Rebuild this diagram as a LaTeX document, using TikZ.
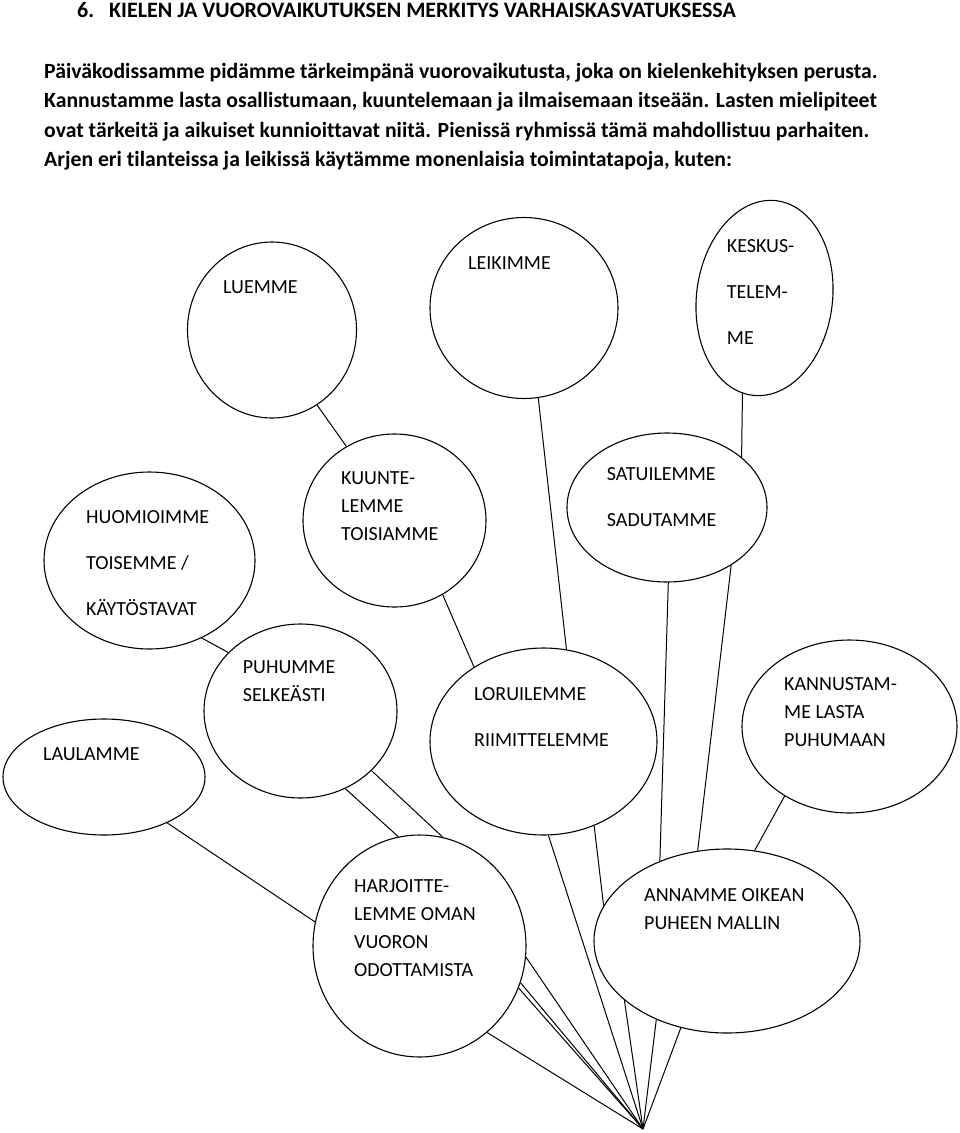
\documentclass[tikz,border=0pt]{standalone}
\usepackage{fontspec}
\setmainfont{Carlito}[Ligatures=NoCommon]
\usetikzlibrary{shapes.geometric}

\begin{document}
\begin{tikzpicture}[x=1pt,y=-1pt,
	bubble/.style={ellipse,draw,line width=1.1pt,inner sep=0pt},
	txt/.style={anchor=base west,inner sep=0pt,align=left,font=\fontsize{20}{28}\selectfont},
	wide/.style={anchor=base west,inner sep=0pt,align=left,font=\fontsize{20}{46}\selectfont},
	link/.style={line width=1pt}]
	\useasboundingbox (0,0) rectangle (960,1133);

	\node [anchor=base west,inner sep=0pt,font=\fontsize{22}{26}\selectfont\bfseries] (title) at (77,17.5)
	{\makebox[32pt][l]{6.}KIELEN JA VUOROVAIKUTUKSEN MERKITYS VARHAISKASVATUKSESSA};
	\node [anchor=base west,inner sep=0pt,align=left,font=\fontsize{21.7}{29.4}\selectfont\bfseries] (intro) at (44,166.7)
	{Päiväkodissamme pidämme tärkeimpänä vuorovaikutusta, joka on kielenkehityksen perusta.\\
	Kannustamme lasta osallistumaan, kuuntelemaan ja ilmaisemaan itseään. Lasten mielipiteet\\
	ovat tärkeitä ja aikuiset kunnioittavat niitä. Pienissä ryhmissä tämä mahdollistuu parhaiten.\\
	Arjen eri tilanteissa ja leikissä käytämme monenlaisia toimintatapoja, kuten:};

	% kuplat
	\node [bubble,minimum width=169pt,minimum height=176pt] (luemme) at (272,330) {};
	\node [bubble,minimum width=188pt,minimum height=181pt] (leik) at (524,308) {};
	\node [bubble,minimum width=136pt,minimum height=196pt,rotate=-7] (keskus) at (764.5,298) {};
	\node [bubble,minimum width=211pt,minimum height=177pt] (huom) at (149.5,560.5) {};
	\node [bubble,minimum width=183pt,minimum height=173pt] (kuunt) at (394.5,520.5) {};
	\node [bubble,minimum width=200pt,minimum height=149pt] (satu) at (667,507.5) {};
	\node [bubble,minimum width=193pt,minimum height=174pt] (puhu) at (300.5,711) {};
	\node [bubble,minimum width=202pt,minimum height=116pt] (laul) at (104,777) {};
	\node [bubble,minimum width=227pt,minimum height=187pt] (loru) at (543.5,741.5) {};
	\node [bubble,minimum width=215pt,minimum height=173pt] (kann) at (849.5,726.5) {};
	\node [bubble,minimum width=213pt,minimum height=222pt] (harj) at (419.5,946) {};
	\node [bubble,minimum width=266pt,minimum height=184pt] (anna) at (727,941) {};

	% tekstit (kohta = viimeisen rivin perusviiva)
	\node [txt] (luemme-t) at (223,293.3) {LUEMME};
	\node [txt] (leik-t) at (468,269.3) {LEIKIMME};
	\node [wide] (keskus-t) at (726.7,344.5) {KESKUS-\\TELEM-\\ME};
	\node [wide] (huom-t) at (86,615.2) {HUOMIOIMME\\TOISEMME /\\KÄYTÖSTAVAT};
	\node [txt] (kuunt-t) at (341,540.5) {KUUNTE-\\LEMME\\TOISIAMME};
	\node [wide] (satu-t) at (606.7,526.5) {SATUILEMME\\SADUTAMME};
	\node [txt] (puhu-t) at (242.7,701.8) {PUHUMME\\SELKEÄSTI};
	\node [txt] (laul-t) at (43,760.7) {LAULAMME};
	\node [wide] (loru-t) at (474,746.8) {LORUILEMME\\RIIMITTELEMME};
	\node [txt] (kann-t) at (784,746.5) {KANNUSTAM-\\ME LASTA\\PUHUMAAN};
	\node [txt] (harj-t) at (354,976.2) {HARJOITTE-\\LEMME OMAN\\VUORON\\ODOTTAMISTA};
	\node [txt] (anna-t) at (644,929.2) {ANNAMME OIKEAN\\PUHEEN MALLIN};

	\coordinate (conv) at (643,1129);

	% viivat
	\draw [link] (luemme.-59) -- (kuunt.123);
	\draw [link] (leik.-81) -- (loru.76);
	\draw [link] (keskus.-96) -- (satu.34);
	\draw [link] (huom.-56) -- (puhu.141);
	\draw [link] (kuunt.-57) -- (loru.133);
	\draw [link] (satu.-89) -- (anna.130);
	\draw [link] (satu.-42) -- (anna.108);
	\draw [link] (puhu.-60) -- (harj.101);
	\draw [link] (puhu.-40) -- (harj.78);
	\draw [link] (laul.-36) -- (harj.167);
	\draw [link] (loru.-59) -- (anna.164);
	\draw [link] (kann.-133) -- (anna.73);
	\draw [link] (loru.-87) -- (conv);
	\draw [link] (anna.-150) -- (conv);
	\draw [link] (anna.-132) -- (conv);
	\draw [link] (anna.-118) -- (conv);
	\draw [link] (harj.-6) -- (conv);
	\draw [link] (harj.-20) -- (conv);
	\draw [link] (harj.-23) -- (conv);
	\draw [link] (harj.-52) -- (conv);

\end{tikzpicture}
\end{document}
